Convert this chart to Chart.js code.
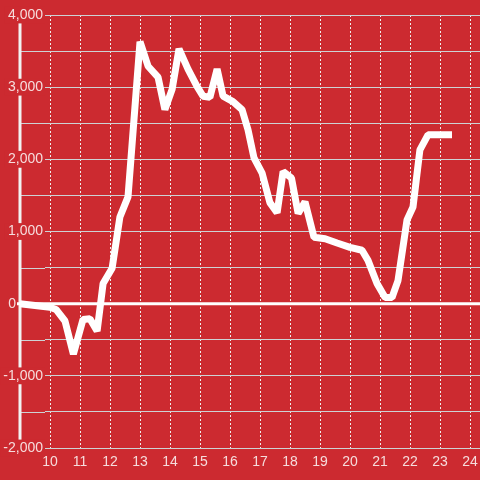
<!DOCTYPE html>
<html>
<head>
<meta charset="utf-8">
<script src="https://cdn.jsdelivr.net/npm/chart.js@4/dist/chart.umd.min.js"></script>
<style>
  html, body { margin: 0; padding: 0; background: #cc2a30; }
  #wrap { width: 480px; height: 480px; position: relative; }
</style>
</head>
<body>
<div id="wrap"><canvas id="lineChart"></canvas></div>
<script>
// series
const xValues = [9.0, 10.0, 10.2, 10.5, 10.78, 11.1, 11.33, 11.57, 11.77, 12.07, 12.33, 12.6,
  13.0, 13.27, 13.6, 13.83, 14.07, 14.3, 14.6, 14.9, 15.1, 15.33, 15.57, 15.77, 16.1, 16.4, 16.6,
  16.8, 17.07, 17.33, 17.57, 17.77, 18.05, 18.27, 18.5, 18.8, 19.17, 19.57, 20.0, 20.4, 20.6,
  20.9, 21.17, 21.4, 21.6, 21.9, 22.1, 22.33, 22.6, 23.4];
const yValues = [0, -50, -80, -240, -700, -220, -210, -380, 280, 490, 1200, 1480,
  3630, 3290, 3140, 2690, 2970, 3530, 3250, 3010, 2875, 2860, 3250, 2875, 2800, 2690, 2410,
  2020, 1810, 1400, 1260, 1830, 1740, 1250, 1410, 920, 900, 840, 780, 740, 600,
  280, 85, 85, 320, 1160, 1340, 2130, 2340, 2340];
const xTicks = [10, 11, 12, 13, 14, 15, 16, 17, 18, 19, 20, 21, 22, 23, 24];
const yTicks = [-2000, -1500, -1000, -500, 0, 500, 1000, 1500, 2000, 2500, 3000, 3500, 4000];

const red = "#cc2a30";
const labelColor = "#f6dcdc";
const labelFont = { family: "Liberation Sans", size: 14 };
const barX = 20;

// white bar on the left and grid lines running out to it
const leftBar = {
  id: "leftBar",
  beforeDraw(chart) {
    const { ctx, chartArea, scales } = chart;
    ctx.save();
    ctx.strokeStyle = "#cdd2d4";
    ctx.lineWidth = 1;
    yTicks.forEach((v) => {
      const y = Math.round(scales.y.getPixelForValue(v)) + 0.5;
      ctx.beginPath();
      ctx.moveTo(barX, y);
      ctx.lineTo(chartArea.left, y);
      ctx.stroke();
    });
    ctx.strokeStyle = "#f2f2f2";
    ctx.lineWidth = 3;
    ctx.beginPath();
    ctx.moveTo(barX, chartArea.top);
    ctx.lineTo(barX, chartArea.bottom);
    ctx.stroke();
    ctx.restore();
  },
  beforeDatasetsDraw(chart) {
    // zero line and its "0" label sit left of the others
    const { ctx, chartArea, scales } = chart;
    const y = scales.y.getPixelForValue(0);
    ctx.save();
    ctx.strokeStyle = "#ffffff";
    ctx.lineWidth = 3;
    ctx.beginPath();
    ctx.moveTo(barX - 3, y);
    ctx.lineTo(chartArea.right, y);
    ctx.stroke();
    ctx.fillStyle = labelColor;
    ctx.font = "14px 'Liberation Sans'";
    ctx.textAlign = "right";
    ctx.textBaseline = "middle";
    ctx.fillText("0", barX - 4, y);
    ctx.restore();
  },
};

const ctx = document.getElementById("lineChart").getContext("2d");
const lineChart = new Chart(ctx, {
  type: "line",
  data: {
    datasets: [
      {
        data: xValues.map((x, i) => ({ x: x, y: yValues[i] })),
        borderColor: "#ffffff",
        borderWidth: 7,
        borderJoinStyle: "bevel",
        pointRadius: 0,
        tension: 0,
        clip: false,
      },
    ],
  },
  options: {
    responsive: true,
    maintainAspectRatio: false,
    animation: false,
    layout: {
      padding: { top: 15, right: 0, bottom: 0, left: 0 },
    },
    plugins: {
      legend: { display: false },
      tooltip: { enabled: false },
    },
    scales: {
      x: {
        type: "linear",
        min: 9.8333,
        max: 24.3333,
        afterBuildTicks: (scale) => {
          scale.ticks = xTicks.map((v) => ({ value: v }));
        },
        afterFit: (scale) => {
          scale.height = 32;
          scale.paddingLeft = 0;
          scale.paddingRight = 0;
        },
        border: { display: false, dash: [2, 2] },
        grid: { color: "#eeeeee", lineWidth: 1, drawTicks: false },
        ticks: {
          padding: 6,
          color: labelColor,
          font: labelFont,
          maxRotation: 0,
          autoSkip: false,
        },
      },
      y: {
        min: -2000,
        max: 4000,
        afterBuildTicks: (scale) => {
          scale.ticks = yTicks.map((v) => ({ value: v }));
        },
        afterFit: (scale) => {
          scale.width = 45;
        },
        border: { display: false },
        grid: { color: "#cdd2d4", lineWidth: 1, drawTicks: false },
        ticks: {
          padding: 2,
          color: labelColor,
          font: labelFont,
          callback: function (value) {
            if (value === 0 || value % 1000 !== 0) return "";
            return value.toLocaleString("en-US");
          },
          showLabelBackdrop: (c) => c.tick && c.tick.value !== 0 && c.tick.value % 1000 === 0,
          backdropColor: red,
          backdropPadding: { left: 3, right: 2, top: 0, bottom: 0 },
        },
      },
    },
  },
  plugins: [leftBar],
});
</script>
</body>
</html>
